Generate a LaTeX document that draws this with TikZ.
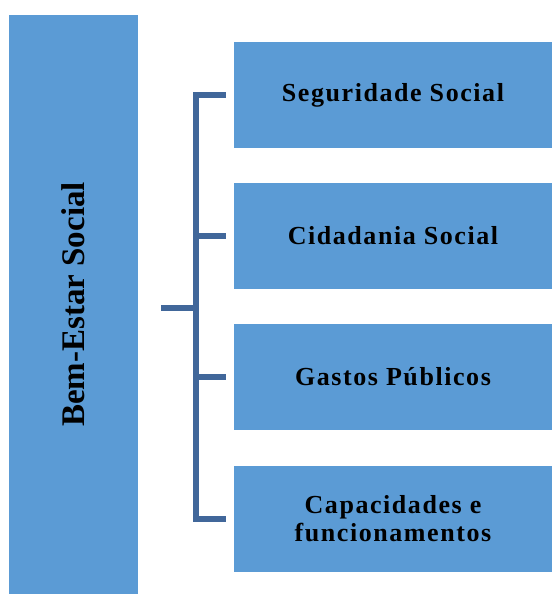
\documentclass[tikz,border=0pt]{standalone}
\usepackage{fontspec}
\setmainfont{Liberation Serif}
\usetikzlibrary{positioning}
\definecolor{boxblue}{HTML}{5B9BD5}
\definecolor{braceblue}{HTML}{41679A}
\tikzset{
    item/.style={
        fill=boxblue,
        minimum width=318pt,
        minimum height=106pt,
        inner sep=0pt,
        align=center,
        font=\bfseries\fontsize{26}{28}\selectfont\addfontfeatures{LetterSpace=6}
    },
    brace/.style={draw=braceblue, line width=6.5pt}
}
\newcommand{\stub}[1] {
    \draw[brace] (spine |- #1.west) -- ([xshift=-8pt]#1.west);
}

\begin{document}
\begin{tikzpicture}[x=1pt,y=-1pt]
        \useasboundingbox (0,0) rectangle (552,594);
        % main box
        \node[fill=boxblue,minimum width=579pt,minimum height=129pt,inner sep=0pt,
              rotate=90,font=\bfseries\fontsize{33}{36}\selectfont] (bem) at (73.5,304.5) {Bem-Estar Social};
        % items
        \node[item] (seg) at (393,95) {Seguridade Social};
        \node[item] (cid) at (393,236) {Cidadania Social};
        \node[item] (gas) at (393,377) {Gastos P\'ublicos};
        \node[item] (cap) at (393,519) {Capacidades e\\funcionamentos};
        % bracket
        \coordinate (spine) at (196,308);
        \coordinate (tail) at (161,308);
        \draw[brace] ([xshift=-8pt]seg.west) -- (spine |- seg.west)
            -- (spine |- cap.west) -- ([xshift=-8pt]cap.west);
        \stub{cid}
        \stub{gas}
        \draw[brace] (tail) -- (spine);
    \end{tikzpicture}
\end{document}
